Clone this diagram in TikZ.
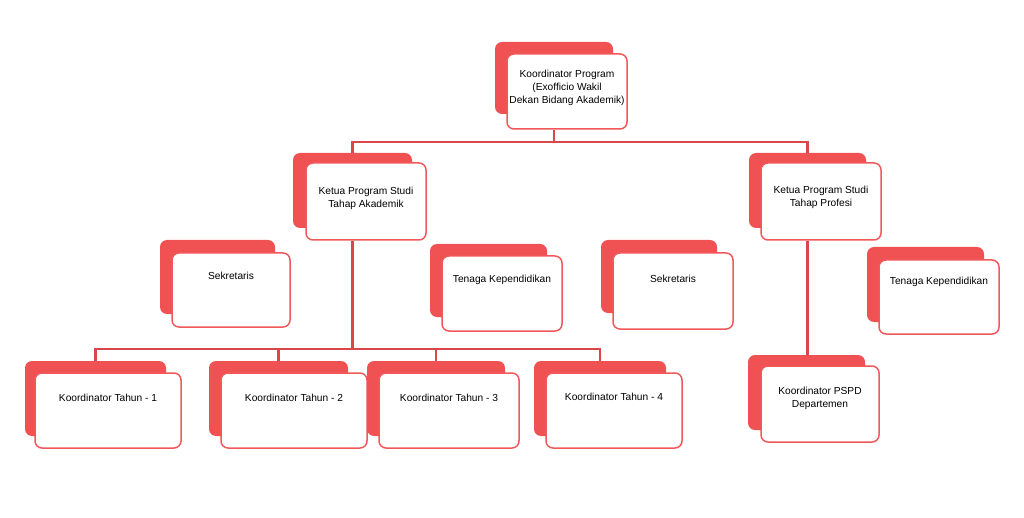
\documentclass[tikz,border=0pt]{standalone}
\usepackage{fontspec}
\setmainfont{Liberation Sans}
\usetikzlibrary{calc}
\pgfdeclarelayer{background}
\pgfsetlayers{background,main}
\definecolor{cardback}{HTML}{F05153}
\definecolor{cardedge}{HTML}{F0585A}
\definecolor{linkred}{HTML}{D9474B}
\begin{document}
\begin{tikzpicture}[x=1pt,y=-1pt,
  backcard/.style={fill=cardback,draw=none,rounded corners=7pt,inner sep=0pt},
  frontcard/.style={fill=white,draw=cardedge,line width=1.5pt,rounded corners=7pt,inner sep=0pt},
  cardtext/.style={font=\fontsize{10.2}{13.2}\selectfont,align=center,inner sep=0pt,text=black},
  conn/.style={draw=linkred,line width=2.1pt}]
\useasboundingbox (0,0) rectangle (1024,518);

% org card: red backing card, white front card, caption
\newcommand{\orgcard}[9]{%
  \node[backcard,minimum width=#3,minimum height=#4] (#1B) at (#2) {};
  \node[frontcard,minimum width=#6,minimum height=#7] (#1) at (#5) {};
  \node[cardtext] (#1T) at (#1.center |- 0,#9) {#8};
}

% top
\orgcard{kp}{554,78}{118pt}{72pt}{567,91.5}{120pt}{75pt}{Koordinator Program\\(Exofficio Wakil\\Dekan Bidang Akademik)}{88}
% second level
\orgcard{ka}{352.5,190.5}{119pt}{75pt}{366,201.5}{120pt}{77pt}{Ketua Program Studi\\Tahap Akademik}{198}
\orgcard{kf}{807.5,190.5}{117pt}{75pt}{821,201.5}{120pt}{77pt}{Ketua Program Studi\\Tahap Profesi}{197}
% staff
\orgcard{sa}{217.5,277}{115pt}{74pt}{231,290}{118pt}{74pt}{Sekretaris}{276}
\orgcard{ta}{488.5,280.5}{117pt}{73pt}{502,293.5}{120pt}{75pt}{Tenaga Kependidikan}{280}
\orgcard{sb}{659,276.5}{116pt}{73pt}{673,291}{120pt}{76pt}{Sekretaris}{279}
\orgcard{tb}{925.5,284.5}{117pt}{75pt}{939,297}{120pt}{74pt}{Tenaga Kependidikan}{282}
% year coordinators
\orgcard{ya}{95.5,398.5}{141pt}{75pt}{108,410.5}{146pt}{75pt}{Koordinator Tahun - 1}{398}
\orgcard{yb}{278.5,398.5}{139pt}{75pt}{294,410.5}{146pt}{75pt}{Koordinator Tahun - 2}{398}
\orgcard{yc}{436,398.5}{138pt}{75pt}{449,410.5}{140pt}{75pt}{Koordinator Tahun - 3}{398}
\orgcard{yd}{600,398.5}{132pt}{75pt}{614,410.5}{136pt}{75pt}{Koordinator Tahun - 4}{397}
% department coordinator
\orgcard{ps}{806.5,392.5}{117pt}{75pt}{820,404}{118pt}{76pt}{Koordinator PSPD\\Departemen}{398}

% connectors, under the cards
\begin{pgfonlayer}{background}
\coordinate (busTop) at ($(kp.south -| kpB.center)+(0,12)$);
\coordinate (busMid) at ($(ka.south -| kaB.center)+(0,108)$);
\draw[conn] (kp.south -| kpB.center) -- (busTop) -| (kaB.north);
\draw[conn] (busTop) -| (kfB.north);
\draw[conn] (ka.south -| kaB.center) -- (busMid) -| (yaB.north);
\draw[conn] (busMid) -| (ybB.north);
\draw[conn] (busMid) -| (ycB.north);
\draw[conn] (busMid) -| (ydB.north);
\draw[conn] (kf.south -| kfB.center) -- (kfB.center |- psB.north);
\end{pgfonlayer}
\end{tikzpicture}
\end{document}
